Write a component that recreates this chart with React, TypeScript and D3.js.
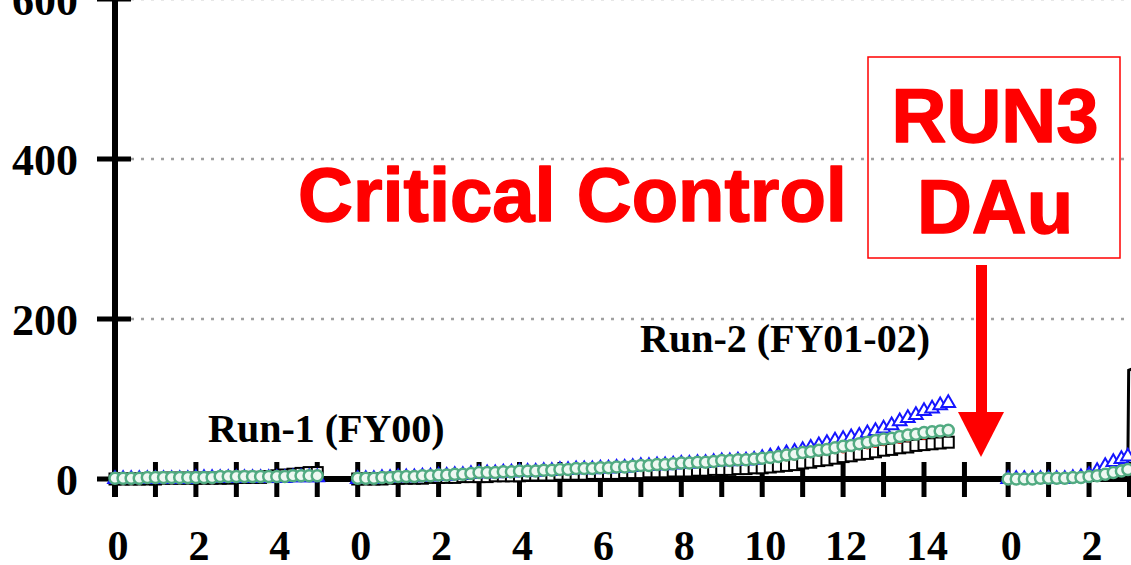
import React from 'react';
import * as d3 from 'd3';

// ---------- data ----------
const Y_TICKS = [0, 200, 400, 600];
const RUN_TICK_MAX = [5, 15, 3];
const RUN_OFFSETS = [0, 6, 22.08];
const RUN_LABELS = ['Run-1 (FY00)', 'Run-2 (FY01-02)'];

// Run-1 (weeks 0..5, every 0.2 week)
const RUN1_WEEKS = d3.range(0, 5.001, 0.2);
const RUN1_BLACK = [0,0,0,0,0,0,1,1,1,1,1,1,1,1,1,2,2,2,2,3,4,5,6,7,8,8];
const RUN1_RED   = [0,0,0,0,0,0,0,0,0,0,0,0,0,0,0,0,0,0,0,0,0,0,0,0,0,0];
const RUN1_BLUE  = [0,0,0,0,0,0,0,0,0,0,1,1,1,1,1,1,1,1,1,1,1,1,2,2,2,2];
const RUN1_GREEN = [1,1,1,1,2,2,2,2,2,2,2,2,2,3,3,3,3,3,3,3,3,3,4,4,4,4];

// Run-2 (weeks 0..14.6, every 0.2 week)
const RUN2_WEEKS = d3.range(0, 14.601, 0.2);
const RUN2_BLACK = [0,0,0,0,1, 1,1,1,1,2, 2,2,2,3,3, 3,3,4,4,4, 4,5,5,5,5, 6,6,6,6,7,
  7,7,7,8,8, 8,9,9,9,10, 10,10,11,11,12, 12,12,13,13,14, 14,15,16,17,18, 20,21,23,24,26,
  28,29,31,32,34, 36,37,39,40,42, 43,44,45,46];
const RUN2_RED = [0,0,1,1,1, 2,2,2,3,3, 4,4,4,5,5, 6,6,6,7,7, 8,8,8,9,9, 10,10,10,11,11,
  11,12,12,13,13, 14,14,15,15,16, 16,17,17,18,18, 19,19,20,20,21, 22,23,24,25,26, 28,29,31,32,34,
  35,37,39,40,42, 44,46,47,49,51, 52,54,55,56];
const RUN2_BLUE = [0,0,0,1,1, 2,2,2,3,3, 4,4,5,5,6, 7,7,7,8,8, 9,9,9,10,10, 11,11,12,12,12,
  13,13,14,14,15, 16,16,17,17,18, 19,19,20,20,21, 22,22,23,23,24, 26,28,30,32,34, 36,39,42,45,48,
  50,52,54,57,60, 63,67,72,76,80, 85,88,92,95];
const RUN2_GREEN = [1,1,1,2,2, 3,3,3,4,4, 5,5,6,6,7, 8,8,8,9,9, 10,10,10,11,11, 12,12,13,13,13,
  14,14,15,15,16, 17,17,18,18,19, 20,20,21,21,22, 23,23,24,24,25, 26,27,28,30,31, 33,34,36,37,39,
  41,42,44,46,48, 50,51,53,55,56, 58,59,60,61];

// Run-3 (weeks 0..~3)
const RUN3_WEEKS = [0,0.2,0.4,0.6,0.8,1,1.2,1.4,1.6,1.8,2,2.2,2.4,2.6,2.8,2.96,2.98,3.2];
const RUN3_BLACK = [0,0,0,0,1,1,1,1,2,3,6,12,17,19,20,21,136,140];
const RUN3_RED   = [0,0,0,0,1,1,1,1,2,3,5,9,15,20,24,27];
const RUN3_BLUE  = [0,0,0,0,0,0,0,0,1,2,5,10,16,21,25,28];
const RUN3_GREEN = [0,0,0,0,1,1,1,1,2,2,3,4,6,8,10,12];

const RUNS = [
  { weeks: RUN1_WEEKS, black: RUN1_BLACK, red: RUN1_RED, blue: RUN1_BLUE, green: RUN1_GREEN, blackMarkers: true },
  { weeks: RUN2_WEEKS, black: RUN2_BLACK, red: RUN2_RED, blue: RUN2_BLUE, green: RUN2_GREEN, blackMarkers: true },
  { weeks: RUN3_WEEKS, black: RUN3_BLACK, red: RUN3_RED, blue: RUN3_BLUE, green: RUN3_GREEN, blackMarkers: false },
];

// ---------- layout ----------
const W = 1131;
const H = 565;
const PX_PER_WEEK = 40.45;
const X0 = 115;
const Y0 = 479;

const xScale = d3.scaleLinear().domain([0, 27]).range([X0, X0 + 27 * PX_PER_WEEK]);
const yScale = d3.scaleLinear().domain([0, 600]).range([Y0, -1]);

const SERIF = '"Liberation Serif", "Times New Roman", serif';
const SANS = '"Liberation Sans", Arial, sans-serif';
const RED = '#ff0000';
const GREEN = '#52ab82';

function pts(weeks: number[], vals: number[], off: number): [number, number][] {
  const n = Math.min(weeks.length, vals.length);
  const out: [number, number][] = [];
  for (let i = 0; i < n; i++) out.push([xScale(off + weeks[i]), yScale(vals[i])]);
  return out;
}

const lineGen = d3.line<[number, number]>().x(d => d[0]).y(d => d[1]);
const triPath = d3.symbol().type(d3.symbolTriangle).size(80)() as string;

export default function App() {
  return (
    <svg width={W} height={H} style={{ position: 'absolute', left: 0, top: 0, background: '#fff' }}
      xmlns="http://www.w3.org/2000/svg">
      <rect x={0} y={0} width={W} height={H} fill="#fff" />
      {/* grid lines */}
      {Y_TICKS.filter(t => t > 0).map(t => (
        <line key={'g' + t} x1={131} x2={W} y1={yScale(t)} y2={yScale(t)}
          stroke="#a0a0a0" strokeWidth={2.5} strokeDasharray="3,7" />
      ))}
      {/* y axis */}
      <line x1={X0} x2={X0} y1={0} y2={497} stroke="#000" strokeWidth={6} />
      {Y_TICKS.map(t => (
        <g key={'yt' + t}>
          <line x1={97} x2={131} y1={yScale(t)} y2={yScale(t)} stroke="#000" strokeWidth={5} />
          <text x={78} y={yScale(t) + 16} textAnchor="end" fontFamily={SERIF} fontWeight="bold"
            fontSize={44} fill="#000">{t}</text>
        </g>
      ))}
      {/* x axis */}
      <line x1={X0} x2={W} y1={Y0} y2={Y0} stroke="#000" strokeWidth={6} />
      {RUN_TICK_MAX.map((mx, r) => (
        <g key={'run' + r}>
          {d3.range(0, mx + 1).map(t => (
            <g key={t}>
              <line x1={xScale(RUN_OFFSETS[r] + t)} x2={xScale(RUN_OFFSETS[r] + t)} y1={462} y2={497}
                stroke="#000" strokeWidth={5} />
              {t % 2 === 0 && (
                <text x={xScale(RUN_OFFSETS[r] + t) + 3} y={560} textAnchor="middle" fontFamily={SERIF}
                  fontWeight="bold" fontSize={42} fill="#000">{t}</text>
              )}
            </g>
          ))}
        </g>
      ))}
      {/* series */}
      {RUNS.map((run, r) => {
        const off = RUN_OFFSETS[r];
        const bk = pts(run.weeks, run.black, off);
        const rd = pts(run.weeks, run.red, off);
        const bl = pts(run.weeks, run.blue, off);
        const gr = pts(run.weeks, run.green, off);
        return (
          <g key={'s' + r}>
            <path d={lineGen(rd) as string} fill="none" stroke={RED} strokeWidth={2.5} />
            <path d={lineGen(bk) as string} fill="none" stroke="#000" strokeWidth={run.blackMarkers ? 1.5 : 3} />
            {run.blackMarkers && bk.map((p, i) => (
              <rect key={'b' + i} x={p[0] - 5.5} y={p[1] - 5.5} width={11} height={11} fill="#fff"
                stroke="#000" strokeWidth={2} />
            ))}
            {rd.map((p, i) => (
              <circle key={'r' + i} cx={p[0]} cy={p[1]} r={2.5} fill={RED} />
            ))}
            <path d={lineGen(bl) as string} fill="none" stroke="#1515ff" strokeWidth={1.5} />
            {bl.map((p, i) => (
              <path key={'t' + i} d={triPath} transform={`translate(${p[0]},${p[1]})`} fill="#fff"
                stroke="#1515ff" strokeWidth={2} />
            ))}
            <path d={lineGen(gr) as string} fill="none" stroke={GREEN} strokeWidth={1.5} />
            {gr.map((p, i) => (
              <circle key={'c' + i} cx={p[0]} cy={p[1]} r={5.5} fill="#eef8f2" stroke={GREEN} strokeWidth={2.5} />
            ))}
          </g>
        );
      })}
      {/* run labels */}
      <text x={xScale(2.3)} y={yScale(46)} fontFamily={SERIF} fontWeight="bold" fontSize={40}
        fill="#000">{RUN_LABELS[0]}</text>
      <text x={xScale(6 + 6.98)} y={yScale(159)} fontFamily={SERIF} fontWeight="bold" fontSize={40}
        fill="#000">{RUN_LABELS[1]}</text>
      {/* annotations */}
      <text x={298} y={221} fontFamily={SANS} fontWeight="bold" fontSize={76} fill={RED}
        stroke={RED} strokeWidth={1.5} strokeLinejoin="round">Critical Control</text>
      <rect x={868} y={57} width={252} height={201} fill="none" stroke={RED} strokeWidth={1.5} />
      <text x={995} y={142} textAnchor="middle" fontFamily={SANS} fontWeight="bold" fontSize={76}
        fill={RED} stroke={RED} strokeWidth={1.5} strokeLinejoin="round">RUN3</text>
      <text x={995} y={233} textAnchor="middle" fontFamily={SANS} fontWeight="bold" fontSize={76}
        fill={RED} stroke={RED} strokeWidth={1.5} strokeLinejoin="round">DAu</text>
      <rect x={976} y={265} width={11} height={150} fill={RED} />
      <path d="M958,412 L1004,412 L981,457 Z" fill={RED} />
    </svg>
  );
}
